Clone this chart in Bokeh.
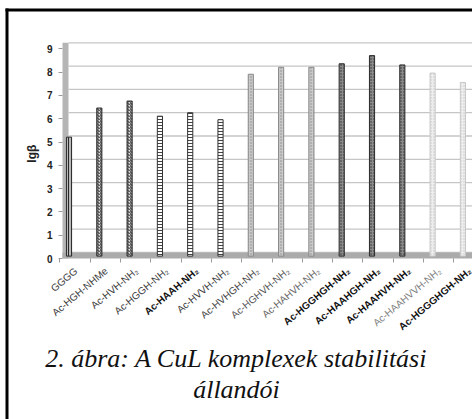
from bokeh.plotting import figure
from bokeh.models import (ColumnDataSource, Range1d, LinearAxis, FixedTicker,
                          Label, LabelSet)
from bokeh.core.properties import value
from bokeh.embed import file_html
from bokeh.resources import INLINE

# ---------------- data ----------------
peptides = ["GGGG", "Ac-HGH-NHMe", "Ac-HVH-NH₂", "Ac-HGGH-NH₂", "Ac-HAAH-NH₂",
            "Ac-HVVH-NH₂", "Ac-HVHGH-NH₂", "Ac-HGHVH-NH₂", "Ac-HAHVH-NH₂",
            "Ac-HGGHGH-NH₂", "Ac-HAAHGH-NH₂", "Ac-HAAHVH-NH₂", "Ac-HAAHVVH-NH₂",
            "Ac-HGGGHGH-NH₂"]
lg_beta = [4.95, 6.2, 6.5, 5.85, 6.0, 5.7, 7.65, 7.95, 7.95, 8.1, 8.45, 8.05, 7.7, 7.3]
y_ticks = [0, 1, 2, 3, 4, 5, 6, 7, 8, 9]
y_label = "lgβ"
caption_lines = ["2. ábra: A CuL komplexek stabilitási", "állandói"]

# ---------------- styles ----------------
label_bold = [False, False, False, False, True, False, False, False, False,
              True, True, True, False, True]
label_color = ["#3a3a3a", "#3a3a3a", "#3a3a3a", "#3a3a3a", "#111111", "#3a3a3a",
               "#444444", "#555555", "#666666", "#111111", "#111111", "#111111",
               "#808080", "#111111"]
bar_group = [0, 1, 1, 2, 2, 2, 3, 3, 3, 4, 4, 4, 5, 5]
group_fill = ["#b8b8b8", "#e2e2e2", "#ffffff", "#c9c9c9", "#8a8a8a", "#eeeeee"]
group_hatch = ["vertical_line", "right_diagonal_line", "horizontal_line", "dot", "dot", "dot"]
group_hatch_color = ["#2a2a2a", "#333333", "#444444", "#8a8a8a", "#2e2e2e", "#c4c4c4"]
group_line = ["#2a2a2a", "#2a2a2a", "#333333", "#8a8a8a", "#2a2a2a", "#c8c8c8"]

# ---------------- geometry (pixels of the 472x419 page) ----------------
W, H = 472, 419
AXIS_X = 62          # page x of the value axis (left wall)
FLOOR_Y = 258        # page y of the front edge of the floor (value 0)
DEPTH_PX = 6         # 3-D offset of the back wall
px_x = 30.3          # pixels per category
px_y = 23.3          # pixels per lgβ unit
x0 = -0.215          # data x at the value axis
depth = DEPTH_PX / px_y

x_start = x0 - AXIS_X / px_x
x_end = x0 + (W - AXIS_X) / px_x
back_floor = FLOOR_Y - DEPTH_PX
y_start = -(H - back_floor) / px_y
y_end = back_floor / px_y
f_start = -(H - FLOOR_Y) / px_y
f_end = FLOOR_Y / px_y


def page_x(px):
    return x0 + (px - AXIS_X) / px_x


def page_y(py):
    return (back_floor - py) / px_y


idx = list(range(len(peptides)))

src = ColumnDataSource(dict(
    x=idx,
    top=lg_beta,
    name=peptides,
    fstyle=["bold" if b else "normal" for b in label_bold],
    lcolor=label_color,
    fill=[group_fill[g] for g in bar_group],
    hatch=[group_hatch[g] for g in bar_group],
    hcolor=[group_hatch_color[g] for g in bar_group],
    line=[group_line[g] for g in bar_group],
))

p = figure(width=W, height=H, output_backend="svg", toolbar_location=None,
           x_range=Range1d(x_start, x_end), y_range=Range1d(y_start, y_end),
           x_axis_location=None, y_axis_location=None, min_border=0)
p.extra_y_ranges = {"front": Range1d(f_start, f_end)}
p.outline_line_color = None
p.background_fill_color = "white"
p.border_fill_color = "white"
p.xgrid.visible = False
p.ygrid.visible = False

# value axis (fixed on the left wall, front range)
yaxis = LinearAxis(y_range_name="front", ticker=FixedTicker(ticks=y_ticks),
                   fixed_location=x0)
yaxis.axis_line_color = None
yaxis.major_tick_line_color = "#9a9a9a"
yaxis.major_tick_in = 0
yaxis.major_tick_out = 4
yaxis.minor_tick_line_color = None
yaxis.major_label_text_font = "Liberation Sans"
yaxis.major_label_text_font_style = "bold"
yaxis.major_label_text_font_size = "10px"
yaxis.major_label_text_color = "#222222"
yaxis.major_label_standoff = 6
p.add_layout(yaxis, "left")

# axis title, centred on the value span
p.add_layout(Label(x=page_x(31), y=(y_ticks[0] + y_ticks[-1]) / 2, y_range_name="front",
                   text=y_label, angle=90, angle_units="deg",
                   text_align="center", text_baseline="alphabetic",
                   text_font="Liberation Sans", text_font_style="bold",
                   text_font_size="12px", text_color="#222222"))

# category axis: tick marks only, fixed on the front edge of the floor
xaxis = LinearAxis(ticker=FixedTicker(ticks=[i - 0.3 for i in idx] + [len(idx) - 0.3]),
                   fixed_location=-depth)
xaxis.major_label_text_color = None
xaxis.axis_line_color = None
xaxis.major_tick_line_color = "#9a9a9a"
xaxis.major_tick_in = 0
xaxis.major_tick_out = 4
xaxis.minor_tick_line_color = None
p.add_layout(xaxis, "below")

# back-wall gridlines (one per y tick)
p.segment(x0=x0 + DEPTH_PX / px_x, x1=x_end, y0=y_ticks, y1=y_ticks,
          line_color="#c6c6c6", line_width=1.3)

# left wall and floor of the 3-D chart
p.quad(left=[x0], right=[x0 + DEPTH_PX / px_x], bottom=[-depth], top=[y_ticks[-1]],
       fill_color="#b5b5b5", line_color=None)
p.quad(left=[x0], right=[x_end], bottom=[-depth], top=[0],
       fill_color="#ababab", line_color=None)

# bars
p.vbar(x="x", top="top", bottom=-0.6 * depth, width=0.17, source=src,
       fill_color="fill", hatch_pattern="hatch", hatch_color="hcolor",
       hatch_scale=3, hatch_weight=1, line_color="line", line_width=1)

# category labels
labels = LabelSet(x="x", y=0, y_range_name="front", text="name", source=src,
                  x_offset=7, y_offset=-11, angle=40, angle_units="deg",
                  text_align="right", text_baseline="middle",
                  text_font=value("Liberation Sans"), text_font_size="10px",
                  text_font_style="fstyle", text_color="lcolor")
p.add_layout(labels)

# caption
cx = page_x(236)
for k, line in enumerate(caption_lines):
    p.add_layout(Label(x=cx, y=0, y_range_name="front", text=line,
                       y_offset=-100 - 31 * k, text_align="center",
                       text_baseline="alphabetic", text_font="Liberation Serif",
                       text_font_style="italic", text_font_size="26px",
                       text_color="#111111"))

# document frame box (only its left and top edges are inside the window)
bx, by = page_x(6.5), page_y(9.5)
p.quad(left=[page_x(5), page_x(5)], right=[page_x(8), x_end],
       top=[page_y(8), page_y(8)], bottom=[y_start, page_y(11)],
       fill_color="#000000", line_color=None)

open("out.html", "w").write(file_html(p, INLINE))
